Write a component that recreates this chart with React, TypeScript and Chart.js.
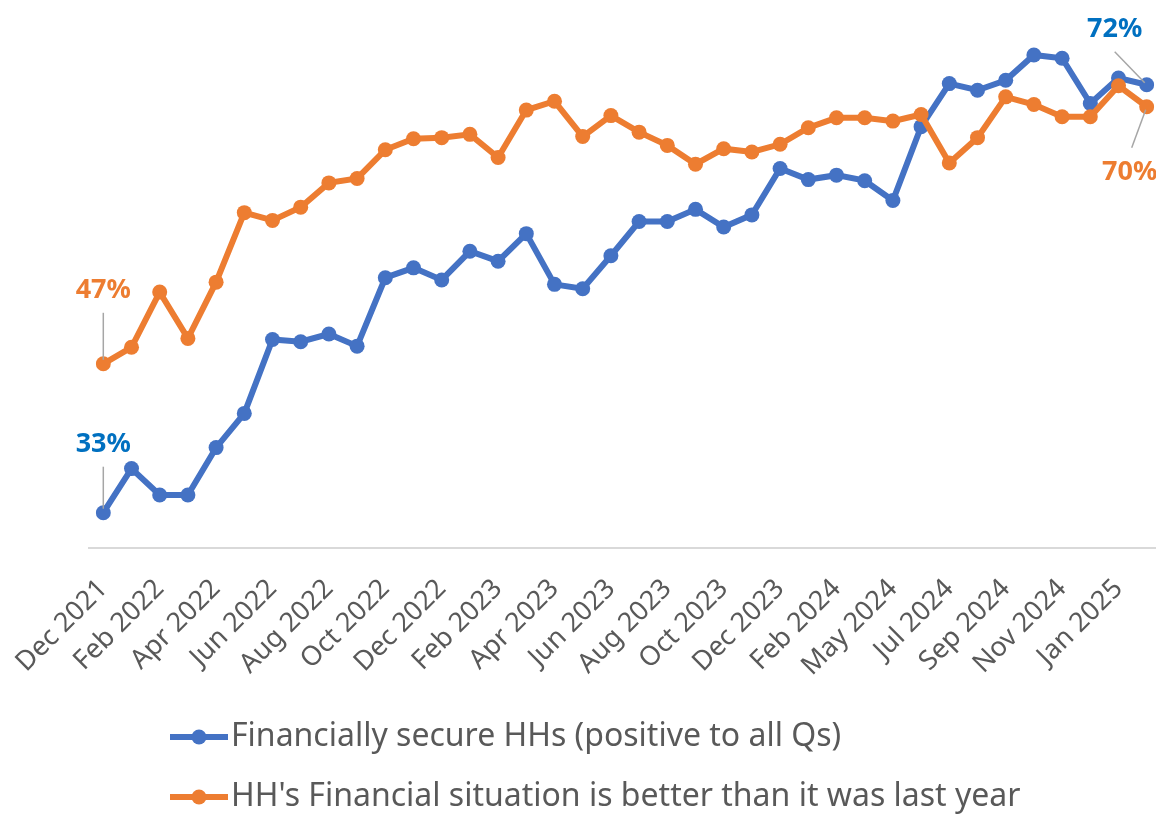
import React, { useEffect, useRef } from 'react';
import { Chart, registerables } from 'chart.js';

Chart.register(...registerables);

const categories: string[] = [
  'Dec 2021', 'Jan 2022', 'Feb 2022', 'Mar 2022', 'Apr 2022', 'May 2022', 'Jun 2022', 'Jul 2022',
  'Aug 2022', 'Sep 2022', 'Oct 2022', 'Nov 2022', 'Dec 2022', 'Jan 2023', 'Feb 2023', 'Mar 2023',
  'Apr 2023', 'May 2023', 'Jun 2023', 'Jul 2023', 'Aug 2023', 'Sep 2023', 'Oct 2023', 'Nov 2023',
  'Dec 2023', 'Jan 2024', 'Feb 2024', 'Mar 2024', 'May 2024', 'Jun 2024', 'Jul 2024', 'Aug 2024',
  'Sep 2024', 'Oct 2024', 'Nov 2024', 'Dec 2024', 'Jan 2025', 'Feb 2025',
];

const tickLabels: string[] = [
  'Dec 2021', 'Feb 2022', 'Apr 2022', 'Jun 2022', 'Aug 2022', 'Oct 2022', 'Dec 2022', 'Feb 2023',
  'Apr 2023', 'Jun 2023', 'Aug 2023', 'Oct 2023', 'Dec 2023', 'Feb 2024', 'May 2024', 'Jul 2024',
  'Sep 2024', 'Nov 2024', 'Jan 2025',
];

const secureLabel = 'Financially secure HHs (positive to all Qs)';
const secureValues: number[] = [
  33.2, 37.2, 34.8, 34.8, 39.1, 42.2, 48.9, 48.7, 49.4, 48.3, 54.5, 55.4, 54.3, 56.9, 56.0, 58.5,
  53.9, 53.5, 56.5, 59.6, 59.6, 60.7, 59.1, 60.2, 64.4, 63.4, 63.8, 63.3, 61.5, 68.2, 72.1, 71.5,
  72.4, 74.7, 74.4, 70.3, 72.6, 72.0,
];

const betterLabel = "HH's Financial situation is better than it was last year";
const betterValues: number[] = [
  46.7, 48.2, 53.2, 49.0, 54.1, 60.4, 59.7, 60.9, 63.1, 63.5, 66.1, 67.1, 67.2, 67.5, 65.4, 69.7,
  70.5, 67.3, 69.2, 67.7, 66.5, 64.8, 66.2, 65.9, 66.6, 68.1, 69.0, 69.0, 68.7, 69.3, 64.9, 67.2,
  70.9, 70.2, 69.1, 69.1, 71.9, 70.0,
];

const BLUE = '#4472C4';
const ORANGE = '#ED7D31';
const BLUE_LABEL = '#0070C0';
const TEXT = '#595959';
const FONT = "'Noto Sans', 'DejaVu Sans', sans-serif";

// callouts: dataset, point index, label offset from point, leader line (offsets from point)
const callouts = [
  { ds: 0, idx: 0, color: BLUE_LABEL, dx: 0, dy: -68, l1: [0, -46], l2: [0, -4] },
  { ds: 1, idx: 0, color: ORANGE, dx: 0, dy: -73, l1: [0, -51], l2: [0, -4] },
  { ds: 0, idx: -1, color: BLUE_LABEL, dx: -32, dy: -55, l1: [-32, -33], l2: [-2, -2] },
  { ds: 1, idx: -1, color: ORANGE, dx: -17, dy: 66, l1: [-15, 41], l2: [-1, 3] },
];

const axisLinePlugin = {
  id: 'axisLine',
  beforeDatasetsDraw(chart: any) {
    const { ctx, chartArea, width } = chart;
    ctx.save();
    ctx.strokeStyle = '#D9D9D9';
    ctx.lineWidth = 2;
    ctx.beginPath();
    ctx.moveTo(88, chartArea.bottom);
    ctx.lineTo(width, chartArea.bottom);
    ctx.stroke();
    ctx.restore();
  },
};

const calloutPlugin = {
  id: 'callouts',
  afterDatasetsDraw(chart: any) {
    const { ctx } = chart;
    ctx.save();
    callouts.forEach((c) => {
      const meta = chart.getDatasetMeta(c.ds);
      const n = meta.data.length;
      const i = c.idx < 0 ? n + c.idx : c.idx;
      const pt = meta.data[i];
      const v = chart.data.datasets[c.ds].data[i] as number;
      ctx.strokeStyle = '#A6A6A6';
      ctx.lineWidth = 1.5;
      ctx.beginPath();
      ctx.moveTo(pt.x + c.l1[0], pt.y + c.l1[1]);
      ctx.lineTo(pt.x + c.l2[0], pt.y + c.l2[1]);
      ctx.stroke();
      ctx.fillStyle = c.color;
      ctx.font = `bold 27px ${FONT}`;
      ctx.textAlign = 'center';
      ctx.textBaseline = 'middle';
      ctx.fillText(`${Math.round(v)}%`, pt.x + c.dx, pt.y + c.dy);
    });
    ctx.restore();
  },
};

const legendPlugin = {
  id: 'bottomLegend',
  afterDraw(chart: any) {
    const { ctx } = chart;
    const rows = [737, 797];
    ctx.save();
    chart.data.datasets.forEach((ds: any, i: number) => {
      const y = rows[i];
      ctx.strokeStyle = ds.borderColor;
      ctx.lineWidth = 6;
      ctx.beginPath();
      ctx.moveTo(170, y);
      ctx.lineTo(228, y);
      ctx.stroke();
      ctx.fillStyle = ds.borderColor;
      ctx.beginPath();
      ctx.arc(199, y, 7.5, 0, Math.PI * 2);
      ctx.fill();
      ctx.fillStyle = TEXT;
      ctx.font = `32px ${FONT}`;
      ctx.textAlign = 'left';
      ctx.textBaseline = 'middle';
      ctx.fillText(ds.label, 231, y);
    });
    ctx.restore();
  },
};

export default function App() {
  const canvasRef = useRef<HTMLCanvasElement | null>(null);

  useEffect(() => {
    document.body.style.margin = '0';
    document.body.style.overflow = 'hidden';
    const canvas = canvasRef.current;
    if (!canvas) return;
    const chart = new Chart(canvas, {
      type: 'line',
      data: {
        labels: categories,
        datasets: [
          {
            label: secureLabel,
            data: secureValues,
            borderColor: BLUE,
            backgroundColor: BLUE,
            pointBackgroundColor: BLUE,
            pointBorderColor: BLUE,
            borderWidth: 6,
            pointRadius: 7.5,
            pointBorderWidth: 0,
            tension: 0,
            order: 1,
          },
          {
            label: betterLabel,
            data: betterValues,
            borderColor: ORANGE,
            backgroundColor: ORANGE,
            pointBackgroundColor: ORANGE,
            pointBorderColor: ORANGE,
            borderWidth: 6,
            pointRadius: 7.5,
            pointBorderWidth: 0,
            tension: 0,
            order: 0,
          },
        ],
      },
      options: {
        responsive: false,
        animation: false,
        devicePixelRatio: 1,
        layout: { padding: { left: 103.3, right: 9.3, top: 6.5, bottom: 0 } },
        plugins: {
          legend: { display: false },
          tooltip: { enabled: false },
        },
        scales: {
          x: {
            type: 'category',
            offset: false,
            grid: { display: false, drawTicks: false },
            border: { display: false },
            ticks: {
              autoSkip: false,
              maxRotation: 45,
              minRotation: 45,
              padding: 25,
              color: TEXT,
              font: { family: FONT, size: 27 },
              callback: (_v: any, idx: number) =>
                tickLabels.includes(categories[idx]) ? categories[idx] : null,
            },
            afterFit: (scale: any) => {
              scale.height = 266;
              scale.paddingLeft = 0;
              scale.paddingRight = 0;
            },
          },
          y: {
            display: false,
            min: 30,
            max: 79,
          },
        },
      },
      plugins: [axisLinePlugin, calloutPlugin, legendPlugin],
    });
    return () => chart.destroy();
  }, []);

  return (
    <div style={{ width: 1156, height: 814 }}>
      <canvas ref={canvasRef} width={1156} height={814} style={{ display: 'block' }} />
    </div>
  );
}
